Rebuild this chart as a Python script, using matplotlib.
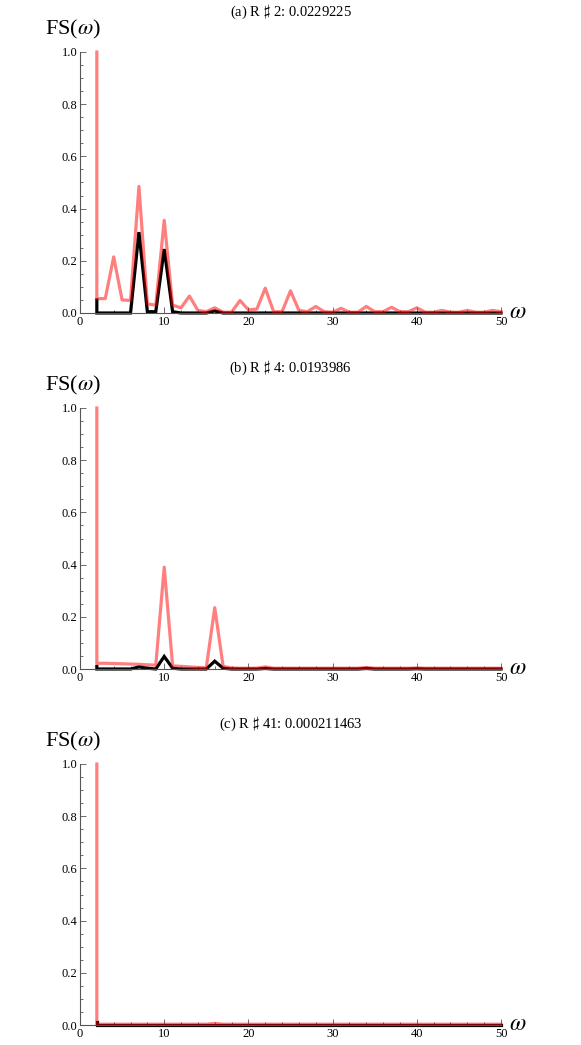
import numpy as np
import matplotlib
matplotlib.use("Agg")
import matplotlib.pyplot as plt
from matplotlib.ticker import MultipleLocator

plt.rcParams['font.family'] = ['Liberation Serif', 'DejaVu Serif']
plt.rcParams['mathtext.fontset'] = 'stix'

# --- data (omega = 2..50, first point repeated for the spike) ---
omega = [2, 2] + list(range(3, 51))

titles = [r"(a) R $\sharp$ 2: 0.0229225",
          r"(b) R $\sharp$ 4: 0.0193986",
          r"(c) R $\sharp$ 41: 0.000211463"]

pink_a = [1.0, 0.055, 0.055, 0.215, 0.05, 0.048, 0.485, 0.035, 0.03, 0.355,
          0.03, 0.02, 0.065, 0.01, 0.005, 0.02, 0.003, 0.003, 0.048, 0.012,
          0.015, 0.095, 0.005, 0.005, 0.085, 0.01, 0.005, 0.025, 0.005, 0.003,
          0.018, 0.003, 0.003, 0.025, 0.005, 0.005, 0.022, 0.005, 0.005, 0.02,
          0.003, 0.003, 0.01, 0.003, 0.003, 0.01, 0.003, 0.003, 0.01, 0.005]
black_a = [0.05, 0.0, 0.0, 0.0, 0.0, 0.0, 0.31, 0.005, 0.005, 0.245,
           0.005, 0.0, 0.0, 0.0, 0.0, 0.008, 0.0, 0.0, 0.0, 0.0,
           0.0, 0.0, 0.0, 0.0, 0.0, 0.0, 0.0, 0.0, 0.0, 0.0,
           0.0, 0.0, 0.0, 0.0, 0.0, 0.0, 0.0, 0.0, 0.0, 0.0,
           0.0, 0.0, 0.0, 0.0, 0.0, 0.0, 0.0, 0.0, 0.0, 0.0]

pink_b = [1.0, 0.022, 0.022, 0.021, 0.02, 0.019, 0.018, 0.016, 0.015, 0.39,
          0.012, 0.01, 0.008, 0.006, 0.005, 0.235, 0.01, 0.004, 0.003, 0.003,
          0.003, 0.008, 0.003, 0.003, 0.003, 0.003, 0.003, 0.003, 0.003, 0.003,
          0.003, 0.003, 0.003, 0.006, 0.003, 0.003, 0.003, 0.003, 0.003, 0.004,
          0.003, 0.003, 0.003, 0.003, 0.003, 0.003, 0.003, 0.003, 0.003, 0.003]
black_b = [0.01, 0.0, 0.0, 0.0, 0.0, 0.0, 0.008, 0.003, 0.0, 0.048,
           0.003, 0.0, 0.0, 0.0, 0.0, 0.03, 0.003, 0.0, 0.0, 0.0,
           0.0, 0.002, 0.0, 0.0, 0.0, 0.0, 0.0, 0.0, 0.0, 0.0,
           0.0, 0.0, 0.0, 0.002, 0.0, 0.0, 0.0, 0.0, 0.0, 0.001,
           0.0, 0.0, 0.0, 0.0, 0.0, 0.0, 0.0, 0.0, 0.0, 0.0]

pink_c = [1.0, 0.003, 0.003, 0.003, 0.003, 0.003, 0.003, 0.003, 0.003, 0.003,
          0.003, 0.003, 0.003, 0.003, 0.003, 0.006, 0.003, 0.003, 0.003, 0.003,
          0.003, 0.003, 0.003, 0.003, 0.003, 0.003, 0.003, 0.003, 0.003, 0.003,
          0.003, 0.003, 0.003, 0.003, 0.003, 0.003, 0.003, 0.003, 0.003, 0.003,
          0.003, 0.003, 0.003, 0.003, 0.003, 0.003, 0.003, 0.003, 0.003, 0.003]
black_c = [0.01, 0.0] + [0.0] * 48

pinks = [pink_a, pink_b, pink_c]
blacks = [black_a, black_b, black_c]

# --- layout ---
fig = plt.figure(figsize=(5.81, 10.45), dpi=100)
left, width, height = 80 / 581, 421 / 581, 261 / 1045
bottoms = [1 - 313 / 1045, 1 - 669 / 1045, 1 - 1025 / 1045]

for i in range(3):
    ax = fig.add_axes([left, bottoms[i], width, height])
    ax.plot(omega, blacks[i], color='black', lw=2.3, clip_on=False,
            solid_joinstyle='miter', zorder=2)
    ax.plot(omega, pinks[i], color='red', alpha=0.5, lw=2.3, clip_on=False,
            zorder=3)

    ax.set_xlim(0, 50)
    ax.set_ylim(0, 1.0)
    for s in ['top', 'right']:
        ax.spines[s].set_visible(False)
    for s in ['left', 'bottom']:
        ax.spines[s].set_color('#555555')
        ax.spines[s].set_linewidth(0.8)

    ax.xaxis.set_major_locator(MultipleLocator(10))
    ax.xaxis.set_minor_locator(MultipleLocator(2))
    ax.yaxis.set_major_locator(MultipleLocator(0.2))
    ax.yaxis.set_minor_locator(MultipleLocator(0.05))
    ax.yaxis.set_major_formatter(plt.FuncFormatter(lambda v, p: f"{v:.1f}"))
    ax.tick_params(which='both', direction='in', color='#555555',
                   labelsize=9, pad=2, width=0.6)
    ax.tick_params(which='major', length=4)
    ax.tick_params(which='minor', length=2.2)

    ax.text(1.02, 0, r"$\omega$", transform=ax.transAxes, fontsize=17,
            ha='left', va='center')
    ax.text(-0.082, 1.085, r"FS($\omega$)", transform=ax.transAxes,
            fontsize=16, ha='left', va='center')
    ax.text(0.5, 1.155, titles[i], transform=ax.transAxes, fontsize=10.5,
            ha='center', va='center')

fig.savefig("out.png", dpi=100)
